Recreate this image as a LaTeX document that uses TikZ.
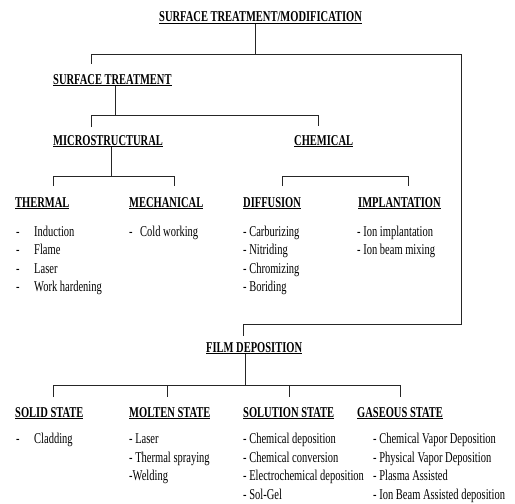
\documentclass[tikz,border=0pt]{standalone}
\usepackage{fontspec}
\setmainfont[FakeStretch=0.70]{Liberation Serif}
\begin{document}
\begin{tikzpicture}[x=1pt,y=-1pt,
  head/.style={anchor=base west, inner sep=0pt, font=\fontsize{15}{17}\selectfont\bfseries},
  item/.style={anchor=base west, inner sep=0pt, font=\fontsize{15}{17}\selectfont},
  link/.style={line width=1pt, black!85}]
\useasboundingbox (0,0) rectangle (515,504);
% headings
\node[head] (title) at (159,21.5) {\underline{SURFACE TREATMENT/MODIFICATION}};
\node[head] (st) at (53,84) {\underline{SURFACE TREATMENT}};
\node[head] (micro) at (53,145) {\underline{MICROSTRUCTURAL}};
\node[head] (chem) at (294,145) {\underline{CHEMICAL}};
\node[head] (thermal) at (15,207) {\underline{THERMAL}};
\node[head] (mech) at (129,207) {\underline{MECHANICAL}};
\node[head] (diff) at (243,207) {\underline{DIFFUSION}};
\node[head] (impl) at (358,207) {\underline{IMPLANTATION}};
\node[head] (film) at (206,352) {\underline{FILM DEPOSITION}};
\node[head] (solid) at (15,417) {\underline{SOLID STATE}};
\node[head] (molten) at (129,417) {\underline{MOLTEN STATE}};
\node[head] (solution) at (243,417) {\underline{SOLUTION STATE}};
\node[head] (gas) at (357,417) {\underline{GASEOUS STATE}};
% item lists
\foreach \t [count=\i] in {Induction,Flame,Laser,Work hardening}
  \node[item] (th\i) at (16,{236+18.5*(\i-1)}) {\makebox[18pt][l]{-}\t};
\node[item] (me1) at (129,236) {\makebox[11pt][l]{-}Cold working};
\foreach \t [count=\i] in {Carburizing,Nitriding,Chromizing,Boriding}
  \node[item] (di\i) at (243,{236+18.5*(\i-1)}) {- \t};
\foreach \t [count=\i] in {Ion implantation,Ion beam mixing}
  \node[item] (im\i) at (357,{236+18.5*(\i-1)}) {- \t};
\node[item] (so1) at (16,443.5) {\makebox[18pt][l]{-}Cladding};
\foreach \t [count=\i] in {- Laser,- Thermal spraying,-Welding}
  \node[item] (mo\i) at (129,{443.5+18.5*(\i-1)}) {\t};
\foreach \t [count=\i] in {Chemical deposition,Chemical conversion,Electrochemical deposition,Sol-Gel}
  \node[item] (sl\i) at (243,{443.5+18.5*(\i-1)}) {- \t};
\foreach \t [count=\i] in {Chemical Vapor Deposition,Physical Vapor Deposition,Plasma Assisted,Ion Beam Assisted deposition}
  \node[item] (ga\i) at (373,{443.5+18.5*(\i-1)}) {- \t};
% junction coordinates
\coordinate (a2) at (255,54);
\coordinate (a3) at (91,54);
\coordinate (a4) at (91,64);
\coordinate (a5) at (461,54);
\coordinate (a6) at (461,324);
\coordinate (a7) at (243,324);
\coordinate (a8) at (243,336);
\coordinate (b2) at (115,115);
\coordinate (b3) at (91,127);
\coordinate (b4) at (91,115);
\coordinate (b5) at (318,115);
\coordinate (b6) at (318,126);
\coordinate (c2) at (111,176);
\coordinate (c3) at (53,186);
\coordinate (c4) at (53,176);
\coordinate (c5) at (174,176);
\coordinate (c6) at (174,186);
\coordinate (d1) at (282,186);
\coordinate (d2) at (282,176);
\coordinate (d3) at (408,176);
\coordinate (d4) at (408,186);
\coordinate (e2) at (245,385);
\coordinate (e3) at (53,397);
\coordinate (e4) at (53,385);
\coordinate (e5) at (400,385);
\coordinate (e6) at (400,397);
\coordinate (e7) at (167,385);
\coordinate (e7b) at (167,397);
\coordinate (e8) at (289,385);
\coordinate (e8b) at (289,397);
% connectors
\draw[link] (title.south -| a2) -- (a2);
\draw[link] (a4) -- (a3) -- (a5) -- (a6) -- (a7) -- (a8);
\draw[link] (st.south -| b2) -- (b2);
\draw[link] (b3) -- (b4) -- (b5) -- (b6);
\draw[link] (micro.south -| c2) -- (c2);
\draw[link] (c3) -- (c4) -- (c5) -- (c6);
\draw[link] (d1) -- (d2) -- (d3) -- (d4);
\draw[link] (film.south -| e2) -- (e2);
\draw[link] (e3) -- (e4) -- (e5) -- (e6);
\draw[link] (e7) -- (e7b);
\draw[link] (e8) -- (e8b);
\end{tikzpicture}
\end{document}
